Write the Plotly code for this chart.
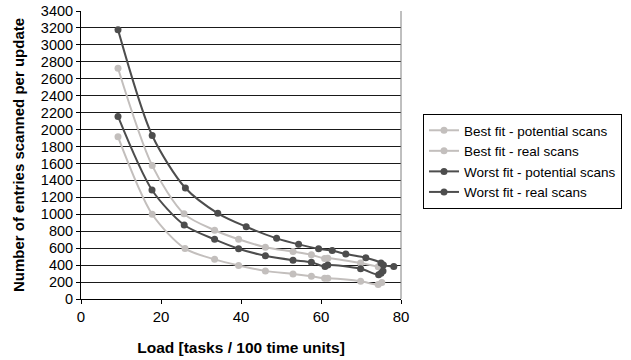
import plotly.graph_objects as go

# ---- data ----
best_pot_x = [9.25, 17.8, 25.75, 33.4, 39.4, 46.1, 53.0, 57.6, 60.9, 61.7, 69.9, 74.3]
best_pot_y = [2725, 1575, 1005, 812, 705, 612, 560, 522, 478, 482, 425, 382]

best_real_x = [9.25, 17.8, 26.0, 33.4, 39.4, 46.1, 53.0, 57.6, 60.9, 61.7, 69.9, 74.3, 75.2]
best_real_y = [1915, 1000, 595, 468, 396, 332, 295, 268, 245, 244, 210, 170, 195]

worst_pot_x = [9.25, 17.8, 26.1, 34.2, 41.3, 48.9, 54.4, 59.4, 62.8, 66.2, 71.2, 75.0, 75.6, 78.2]
worst_pot_y = [3180, 1930, 1310, 1012, 853, 716, 645, 592, 572, 531, 486, 425, 400, 383]

worst_real_x = [9.25, 17.75, 25.8, 33.4, 39.4, 46.1, 53.0, 57.6, 61.0, 61.7, 69.9, 74.4, 75.0, 75.5]
worst_real_y = [2155, 1287, 874, 704, 594, 510, 458, 433, 383, 400, 356, 285, 305, 330]

series_names = ["Best fit - potential scans", "Best fit - real scans",
                "Worst fit - potential scans", "Worst fit - real scans"]

x_ticks = [0, 20, 40, 60, 80]
y_ticks = list(range(0, 3401, 200))

LIGHT = "#C3BFBD"
DARK = "#4D4D4D"
FONT = "Liberation Sans, Arial, sans-serif"

fig = go.Figure()
for name, xs, ys, col in [
    (series_names[0], best_pot_x, best_pot_y, LIGHT),
    (series_names[1], best_real_x, best_real_y, LIGHT),
    (series_names[2], worst_pot_x, worst_pot_y, DARK),
    (series_names[3], worst_real_x, worst_real_y, DARK),
]:
    fig.add_trace(go.Scatter(
        x=xs, y=ys, name=name, mode="lines+markers",
        line=dict(color=col, width=2, shape="spline", smoothing=0.8),
        marker=dict(color=col, size=7, symbol="circle"),
    ))

fig.update_layout(
    width=631, height=360,
    margin=dict(l=81, r=230, t=11, b=61, autoexpand=False),
    paper_bgcolor="white", plot_bgcolor="white",
    font=dict(family=FONT, size=15, color="black"),
    showlegend=True,
    legend=dict(
        x=(423 - 81) / 320, y=(299 - 114) / 288, xanchor="left", yanchor="top",
        bordercolor="black", borderwidth=1, bgcolor="white",
        font=dict(family=FONT, size=13.5, color="black"),
        tracegroupgap=0, itemwidth=30,
    ),
    xaxis=dict(
        range=[0, 80], tickvals=x_ticks, ticktext=[str(v) for v in x_ticks],
        showgrid=False, zeroline=False, automargin=False,
        showline=True, linecolor="black", linewidth=1,
        ticks="outside", ticklen=4, tickcolor="black",
        tickfont=dict(size=15),
        title=dict(text="<b>Load [tasks / 100 time units]</b>", font=dict(size=15.5), standoff=18),
    ),
    yaxis=dict(
        range=[0, 3400], tickvals=y_ticks, ticktext=[str(v) for v in y_ticks],
        showgrid=True, gridcolor="#1a1a1a", gridwidth=1, zeroline=False, automargin=False,
        showline=True, linecolor="black", linewidth=1,
        ticks="outside", ticklen=4, tickcolor="black",
        tickfont=dict(size=14.5),
        title=dict(text="<b>Number of entries scanned per update</b>", font=dict(size=15), standoff=12),
    ),
)
# plot-area border on the right side (gray)
fig.add_shape(type="line", xref="paper", yref="paper", x0=1, x1=1, y0=0, y1=1,
              line=dict(color="#808080", width=1))

fig.write_html("out.html", config={"displayModeBar": False},
               post_script="document.body.style.margin='0';")
